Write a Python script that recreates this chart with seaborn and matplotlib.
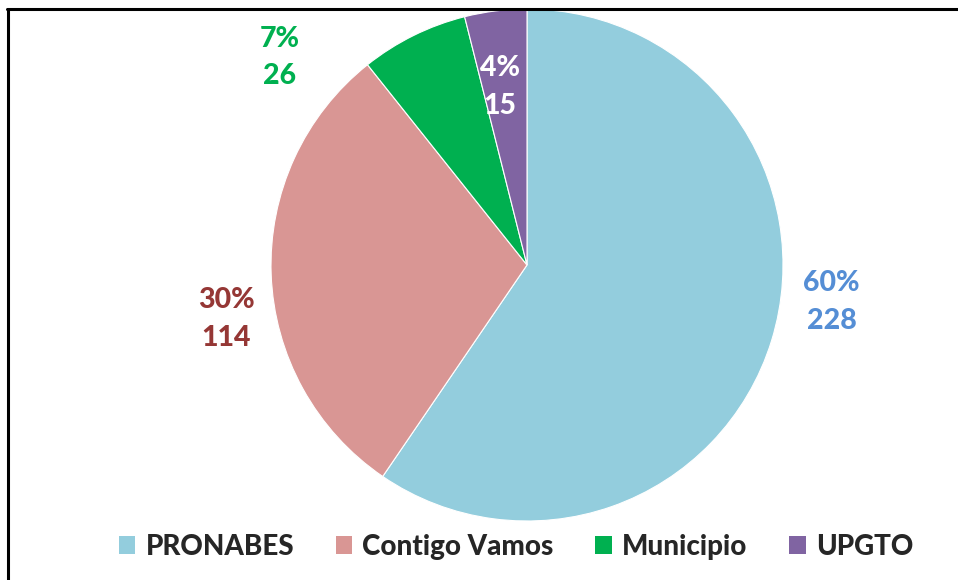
import matplotlib.pyplot as plt
import seaborn as sns
from matplotlib.patches import Patch
from matplotlib.lines import Line2D

sources = ['PRONABES', 'Contigo Vamos', 'Municipio', 'UPGTO']
counts = [228, 114, 26, 15]
pcts = ['60%', '30%', '7%', '4%']

colors = ['#93CDDD', '#D99694', '#00B050', '#8064A2']
label_colors = ['#558ED5', '#953735', '#00B050', 'white']
# label positions (in pie radius units, relative to centre)
label_pos = [(1.19, -0.145), (-1.175, -0.21), (-0.965, 0.81), (-0.105, 0.695)]

sns.set_theme(style='white')
plt.rcParams['font.family'] = ['Lato', 'DejaVu Sans']

fig = plt.figure(figsize=(9.58, 5.80), dpi=100)
ax = fig.add_axes([271 / 958, 59 / 580, 512 / 958, 512 / 580])

ax.pie(counts, colors=colors, startangle=90, counterclock=False, radius=1,
       wedgeprops=dict(edgecolor='white', linewidth=0.8), frame=False)
ax.set_xlim(-1, 1)
ax.set_ylim(-1, 1)
ax.axis('off')

for (x, y), p, n, c in zip(label_pos, pcts, counts, label_colors):
    ax.text(x, y, f'{p}\n{n}', ha='center', va='center', color=c,
            fontsize=20.5, fontweight='black', linespacing=1.55)

handles = [Patch(facecolor=c, edgecolor='none') for c in colors]
fig.legend(handles, sources, loc='center', bbox_to_anchor=(0.5386, 1 - 547 / 580),
           ncol=4, frameon=False, handlelength=0.6, handleheight=0.6,
           handletextpad=0.36, columnspacing=1.5,
           prop=dict(family=['Lato', 'DejaVu Sans'], weight='black', size=20))

# outer frame (top and left edges visible)
fig.add_artist(Line2D([7 / 958, 1], [1 - 9 / 580, 1 - 9 / 580], color='black', lw=2.2,
                      transform=fig.transFigure))
fig.add_artist(Line2D([8 / 958, 8 / 958], [0, 1 - 9 / 580], color='black', lw=2.2,
                      transform=fig.transFigure))

fig.savefig('out.png', dpi=100)
